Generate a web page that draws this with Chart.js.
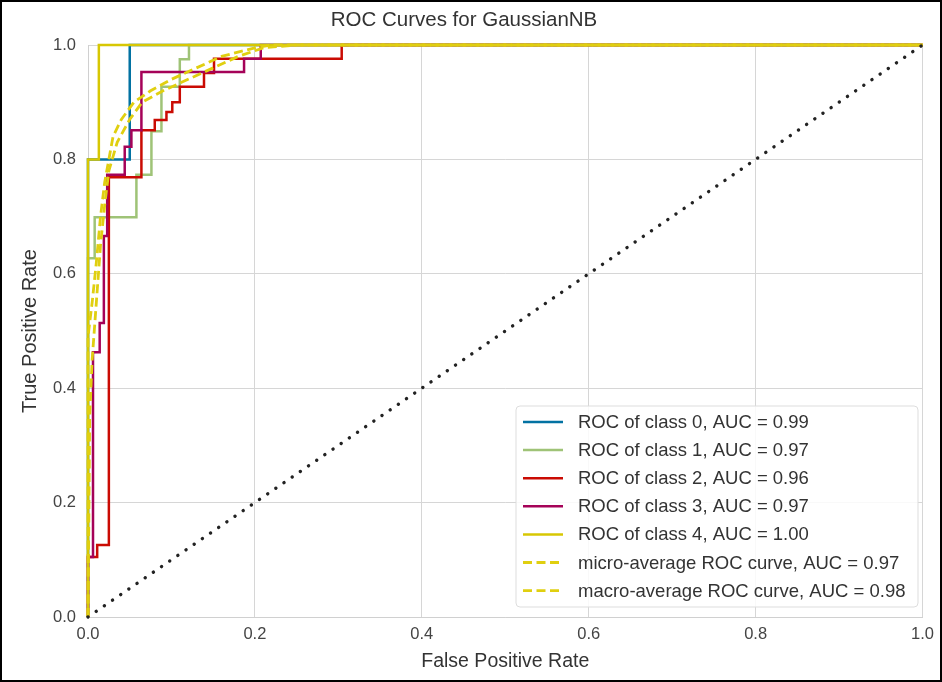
<!DOCTYPE html>
<html>
<head>
<meta charset="utf-8">
<script src="https://cdn.jsdelivr.net/npm/chart.js@4.4.1/dist/chart.umd.min.js"></script>
<style>
  html, body { margin: 0; padding: 0; background: #fff; }
  #wrap { width: 942px; height: 682px; position: relative; }
</style>
</head>
<body>
<div id="wrap"><canvas id="grafico" width="942" height="682"></canvas></div>
<script>
// valores (FPR no eixo x, TPR no eixo y)
const fpr0 = [0, 0, 0.05, 0.05, 1]
const tpr0 = [0, 0.80, 0.80, 1, 1]

const fpr1 = [0, 0, 0.008, 0.008, 0.058, 0.058, 0.076, 0.076, 0.088, 0.088, 0.110, 0.110, 0.121, 0.121, 1]
const tpr1 = [0, 0.627, 0.627, 0.699, 0.699, 0.773, 0.773, 0.849, 0.849, 0.927, 0.927, 0.975, 0.975, 1, 1]

const fpr2 = [0, 0, 0.011, 0.011, 0.025, 0.025, 0.064, 0.064, 0.080, 0.080, 0.094, 0.094, 0.101, 0.101, 0.110, 0.110, 0.139, 0.139, 0.151, 0.151, 0.304, 0.304, 1]
const tpr2 = [0, 0.105, 0.105, 0.126, 0.126, 0.769, 0.769, 0.851, 0.851, 0.869, 0.869, 0.883, 0.883, 0.900, 0.900, 0.927, 0.927, 0.951, 0.951, 0.976, 0.976, 1, 1]

const fpr3 = [0, 0, 0.006, 0.006, 0.014, 0.014, 0.019, 0.019, 0.023, 0.023, 0.044, 0.044, 0.052, 0.052, 0.064, 0.064, 0.187, 0.187, 0.207, 0.207, 1]
const tpr3 = [0, 0.105, 0.105, 0.463, 0.463, 0.514, 0.514, 0.666, 0.666, 0.773, 0.773, 0.822, 0.822, 0.851, 0.851, 0.953, 0.953, 0.976, 0.976, 1, 1]

const fpr4 = [0, 0, 0.013, 0.013, 1]
const tpr4 = [0, 0.80, 0.80, 1, 1]

const fprMicro = [0, 0.002, 0.005, 0.010, 0.015, 0.020, 0.025, 0.035, 0.050, 0.065, 0.090, 0.120, 0.150, 0.180, 0.210, 0.250, 1]
const tprMicro = [0, 0.35, 0.45, 0.55, 0.65, 0.72, 0.78, 0.83, 0.87, 0.90, 0.92, 0.94, 0.96, 0.98, 0.995, 1, 1]

const fprMacro = [0, 0, 0.005, 0.010, 0.015, 0.020, 0.025, 0.030, 0.040, 0.055, 0.075, 0.100, 0.130, 0.160, 0.200, 0.220, 1]
const tprMacro = [0, 0.49, 0.55, 0.62, 0.70, 0.76, 0.80, 0.84, 0.87, 0.90, 0.92, 0.94, 0.96, 0.98, 0.995, 1, 1]

const diagX = [0, 1]
const diagY = [0, 1]

const rotulos = [
    "ROC of class 0, AUC = 0.99",
    "ROC of class 1, AUC = 0.97",
    "ROC of class 2, AUC = 0.96",
    "ROC of class 3, AUC = 0.97",
    "ROC of class 4, AUC = 1.00",
    "micro-average ROC curve, AUC = 0.97",
    "macro-average ROC curve, AUC = 0.98"
]
const cores = ["#0272a2", "#9fc377", "#ca0b03", "#a50258", "#d7c703", "#e0cf10", "#e0cf10"]
const ticksEixo = [0, 0.2, 0.4, 0.6, 0.8, 1.0]

const fonte = "'Liberation Sans', Arial, sans-serif"
const tracejado = [9, 4.5]

function pontos(xs, ys) { // junta os vetores em pares {x, y}
    return xs.map((x, i) => ({x: x, y: ys[i]}))
}

let series = [[fpr0, tpr0], [fpr1, tpr1], [fpr2, tpr2], [fpr3, tpr3], [fpr4, tpr4], [fprMicro, tprMicro], [fprMacro, tprMacro]]
let datasets = series.map((s, i) => ({
    label: rotulos[i],
    data: pontos(s[0], s[1]),
    borderColor: cores[i],
    borderWidth: i < 5 ? 2.5 : 2.8,
    borderDash: i < 5 ? [] : tracejado,
    pointRadius: 0,
    tension: 0,
    fill: false,
    clip: 4,
    order: 20 - i
}))
datasets.push({
    label: "diagonal",
    data: pontos(diagX, diagY),
    borderColor: "#222222",
    borderWidth: 3.4,
    borderDash: [0.1, 9.8],
    borderCapStyle: "round",
    pointRadius: 0,
    fill: false,
    clip: 4,
    order: 1
})

// legenda desenhada dentro da area do grafico, canto inferior direito
const legendaPlugin = {
    id: "legendaDentro",
    afterDraw(chart) {
        const ctx = chart.ctx
        const x0 = 516, y0 = 406, w = 402, h = 201
        ctx.save()
        ctx.beginPath()
        ctx.roundRect(x0, y0, w, h, 4)
        ctx.fillStyle = "rgba(255,255,255,0.85)"
        ctx.fill()
        ctx.strokeStyle = "#dddddd"
        ctx.lineWidth = 1
        ctx.stroke()
        ctx.font = "18.5px " + fonte
        ctx.textBaseline = "middle"
        rotulos.forEach((r, i) => {
            const yy = 422 + i * 28.1
            ctx.beginPath()
            ctx.strokeStyle = cores[i]
            ctx.lineWidth = i < 5 ? 2.5 : 2.8
            ctx.setLineDash(i < 5 ? [] : tracejado)
            ctx.moveTo(523, yy)
            ctx.lineTo(563, yy)
            ctx.stroke()
            ctx.setLineDash([])
            ctx.fillStyle = "#333333"
            ctx.fillText(r, 578, yy + 1)
        })
        ctx.restore()
    }
}

const moldura = {
    id: "moldura",
    afterDraw(chart) {
        const ctx = chart.ctx
        ctx.save()
        ctx.strokeStyle = "#000"
        ctx.lineWidth = 2
        ctx.strokeRect(1, 1, 940, 680)
        ctx.restore()
    }
}

let chart = new Chart(document.getElementById("grafico"), {
    type: "line",
    data: { datasets: datasets },
    plugins: [legendaPlugin, moldura],
    options: {
        responsive: false,
        animation: false,
        layout: { padding: { left: 0, right: 14, top: 0, bottom: 0 } },
        plugins: {
            legend: { display: false },
            tooltip: { enabled: false },
            title: {
                display: true,
                text: "ROC Curves for GaussianNB",
                color: "#333333",
                font: { family: fonte, size: 20.5, weight: "normal" },
                padding: { top: 8, bottom: 12.4 }
            }
        },
        scales: {
            x: {
                type: "linear",
                min: 0, max: 1,
                afterFit: s => { s.height = 65 },
                afterBuildTicks: s => { s.ticks = ticksEixo.map(v => ({value: v})) },
                grid: { color: "#d6d6d6", drawTicks: false },
                border: { color: "#d0d0d0" },
                ticks: {
                    padding: 8,
                    color: "#444444",
                    font: { family: fonte, size: 16.5 },
                    callback: v => v.toFixed(1)
                },
                title: {
                    display: true,
                    text: "False Positive Rate",
                    color: "#333333",
                    font: { family: fonte, size: 19.5 },
                    padding: { top: 0, bottom: 8.3 }
                }
            },
            y: {
                type: "linear",
                min: 0, max: 1,
                afterFit: s => { s.width = 88 },
                afterBuildTicks: s => { s.ticks = ticksEixo.map(v => ({value: v})) },
                grid: { color: "#d6d6d6", drawTicks: false },
                border: { color: "#d0d0d0" },
                ticks: {
                    padding: 12,
                    color: "#444444",
                    font: { family: fonte, size: 16.5 },
                    callback: v => v.toFixed(1)
                },
                title: {
                    display: true,
                    text: "True Positive Rate",
                    color: "#333333",
                    font: { family: fonte, size: 20 },
                    padding: { top: 18, bottom: 0 }
                }
            }
        }
    }
})
</script>
</body>
</html>
